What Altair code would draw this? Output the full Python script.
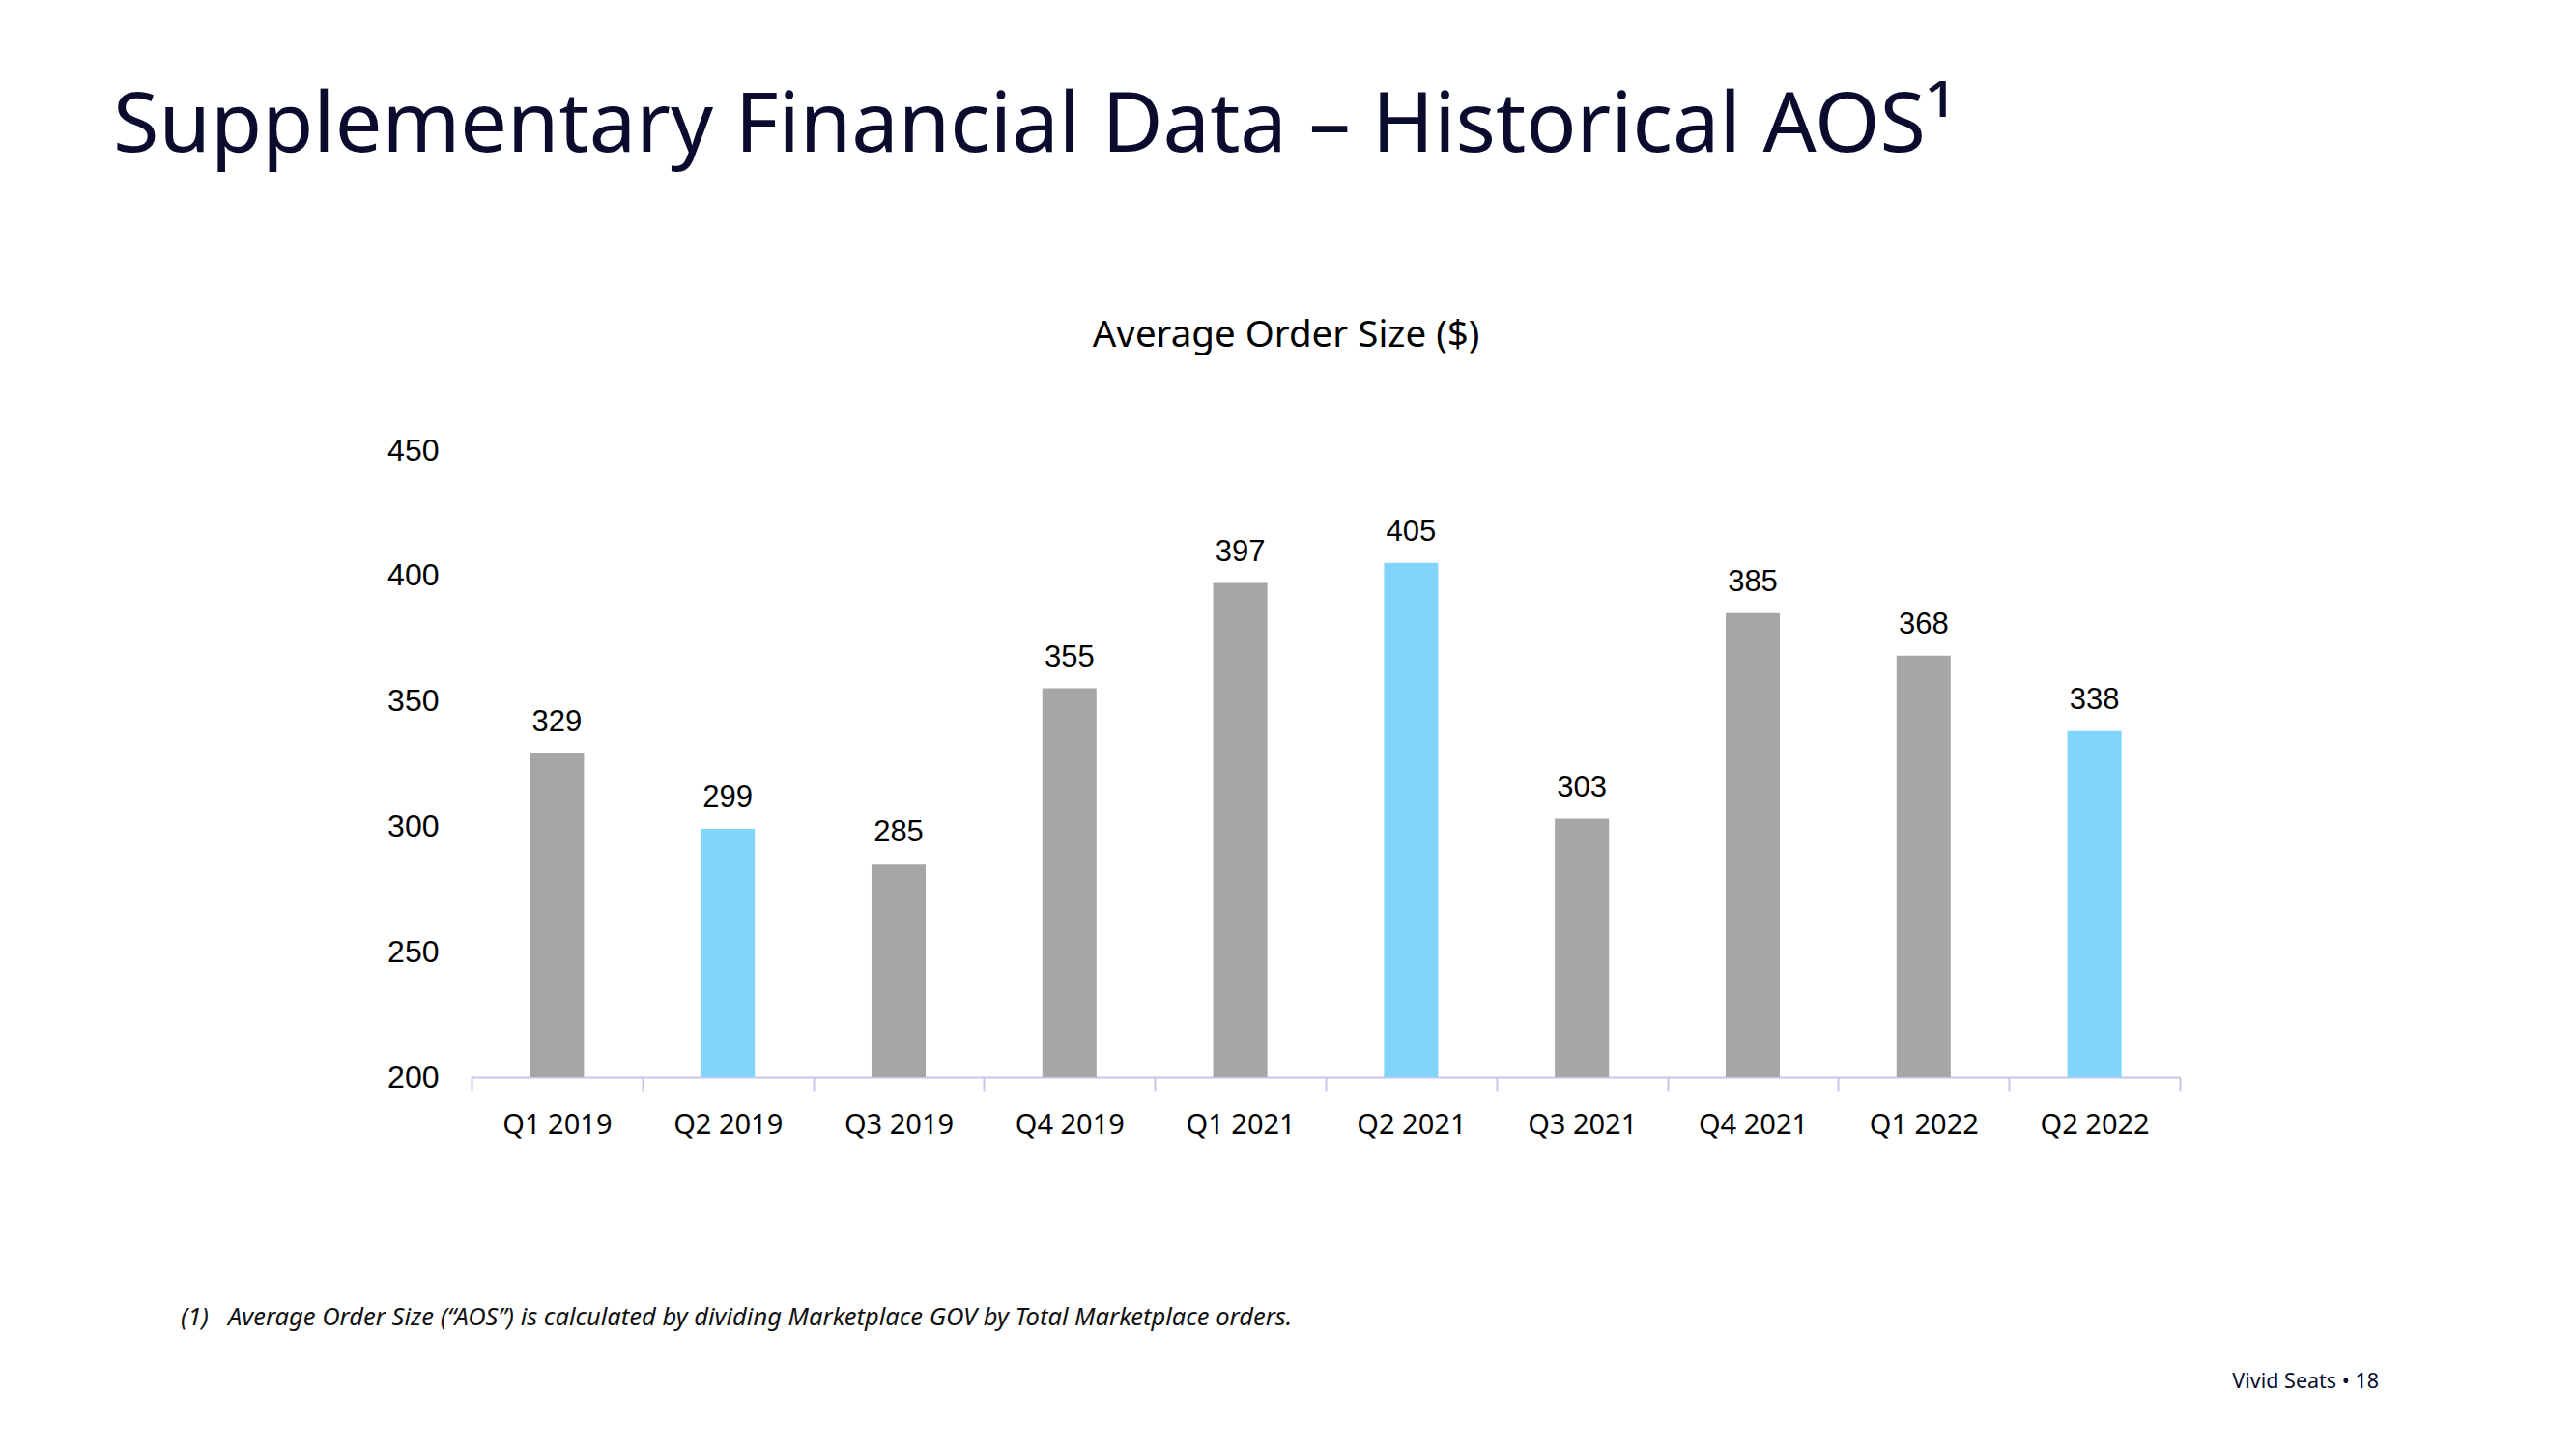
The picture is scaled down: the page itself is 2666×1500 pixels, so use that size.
import altair as alt
import pandas as pd

quarters = ["Q1 2019", "Q2 2019", "Q3 2019", "Q4 2019", "Q1 2021",
            "Q2 2021", "Q3 2021", "Q4 2021", "Q1 2022", "Q2 2022"]
aos_values = [329, 299, 285, 355, 397, 405, 303, 385, 368, 338]
bar_group = ["other", "q2", "other", "other", "other",
             "q2", "other", "other", "other", "q2"]
y_ticks = [200, 250, 300, 350, 400, 450]

page_title = "Supplementary Financial Data \u2013 Historical AOS\u00b9"
chart_title = "Average Order Size ($)"
footnote_num = "(1)"
footnote_text = "Average Order Size (\u201cAOS\u201d) is calculated by dividing Marketplace GOV by Total Marketplace orders."
footer_text = "Vivid Seats  \u2022   18"

df = pd.DataFrame({"quarter": quarters, "aos": aos_values, "group": bar_group})

W, H = 1768, 649
NAVY = "#0b0b2e"

x_enc = alt.X(
    "quarter:N", sort=quarters, title=None,
    scale=alt.Scale(paddingInner=0, paddingOuter=0),
    axis=alt.Axis(
        labelAngle=0, labelFont="Noto Sans", labelFontSize=29, labelColor="#000000",
        domainColor="#c5c6ea", domainWidth=2, tickColor="#c5c6ea", tickWidth=2,
        tickSize=14, tickBand="extent", labelPadding=21, grid=False,
    ),
)
y_enc = alt.Y(
    "aos:Q", title=None,
    scale=alt.Scale(domain=[200, 450], zero=False, clamp=True, nice=False),
    axis=alt.Axis(
        values=y_ticks, domain=False, ticks=False, grid=False, labelPadding=34,
        labelFont="Liberation Sans", labelFontSize=32, labelColor="#000000",
    ),
)

bars = alt.Chart(df).mark_bar(width=alt.RelativeBandSize(0.317)).encode(
    x=x_enc,
    y=y_enc,
    y2=alt.Y2(datum=200),
    color=alt.Color("group:N", legend=None,
                    scale=alt.Scale(domain=["other", "q2"], range=["#a6a6a6", "#82d5fa"])),
)

labels = alt.Chart(df).mark_text(
    baseline="alphabetic", dy=-23, font="Liberation Sans", fontSize=31, color="#000000"
).encode(
    x=alt.X("quarter:N", sort=quarters),
    y=alt.Y("aos:Q"),
    text=alt.Text("aos:Q"),
)

def txt(s, x, y, size, color="#000000", font="Noto Sans", align="left",
        baseline="middle", style="normal", weight="normal"):
    return alt.Chart(pd.DataFrame({"t": [s]})).mark_text(
        align=align, baseline=baseline, fontSize=size, font=font, color=color,
        fontStyle=style, fontWeight=weight,
    ).encode(x=alt.value(x), y=alt.value(y), text="t:N")

title_t = txt(page_title, -371, -309, 86.5, color=NAVY, baseline="alphabetic")
sub_t = txt(chart_title, 843, -119, 38.5, align="center")
fn1 = txt(footnote_num, -301, 898, 25.5, style="italic", color="#111111")
fn2 = txt(footnote_text, -252, 898, 25.5, style="italic", color="#111111")
foot = txt(footer_text, 1974, 965, 21.5, color=NAVY, align="right")

chart = alt.layer(bars, labels, title_t, sub_t, fn1, fn2, foot).properties(
    width=W, height=H,
    background="#ffffff",
    autosize=alt.AutoSizeParams(type="none"),
    padding={"left": 480, "top": 458, "right": 230, "bottom": 350},
).configure_view(strokeWidth=0, stroke=None)

chart.save("out.html", embed_options={"renderer": "svg", "actions": False})
